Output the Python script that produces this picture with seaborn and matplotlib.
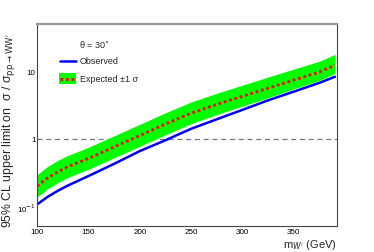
import numpy as np
import pandas as pd
import matplotlib
matplotlib.use("Agg")
import matplotlib.pyplot as plt
import matplotlib.ticker as mticker
import seaborn as sns

# ---- data ----
mass = [100, 110, 120, 130, 140, 150, 175, 200, 225, 250, 275, 300, 325, 350, 375, 390]
observed = [0.107, 0.138, 0.170, 0.204, 0.240, 0.282, 0.427, 0.66, 0.955, 1.41,
            1.95, 2.69, 3.72, 5.0, 6.76, 8.3]
expected = [0.20, 0.263, 0.324, 0.389, 0.447, 0.513, 0.76, 1.12, 1.66, 2.40,
            3.24, 4.27, 5.62, 7.41, 9.77, 12.3]
exp_hi = [0.295, 0.389, 0.479, 0.569, 0.653, 0.750, 1.11, 1.64, 2.43, 3.51,
          4.73, 6.24, 8.22, 10.8, 14.1, 17.8]
exp_lo = [0.138, 0.182, 0.224, 0.269, 0.309, 0.355, 0.525, 0.776, 1.15, 1.68,
          2.29, 3.05, 4.07, 5.50, 7.33, 9.33]
x_ticks = [100, 150, 200, 250, 300, 350]
y_ticks = [0.1, 1, 10]
y_tick_labels = ["10$^{-1}$", "1", "10"]

df = pd.DataFrame({"mass": mass, "observed": observed, "expected": expected,
                   "hi": exp_hi, "lo": exp_lo})

sns.set_style("white")
plt.rcParams["font.family"] = ["Liberation Sans", "DejaVu Sans"]
plt.rcParams["mathtext.fontset"] = "dejavusans"

fig = plt.figure(figsize=(3.74, 2.53), dpi=100)
ax = fig.add_axes([37/374, 1 - 226.7/253, 300/374, (226.7 - 25)/253])

ax.fill_between(df["mass"], df["lo"], df["hi"], color="#00ff00", lw=0, zorder=1)
sns.lineplot(data=df, x="mass", y="expected", ax=ax, color="red", lw=2,
             linestyle=(0, (1, 1)), zorder=3)
sns.lineplot(data=df, x="mass", y="observed", ax=ax, color="#0000ff", lw=1.8, zorder=2)
ax.axhline(1, color="#777777", lw=0.9, ls=(0, (4, 3)), zorder=0)

ax.set_yscale("log")
ax.set_xlim(100, 392)
ax.set_ylim(0.052, 50)

ax.set_xticks(x_ticks)
ax.set_xticklabels([str(t) for t in x_ticks])
ax.xaxis.set_minor_locator(mticker.MultipleLocator(10))
ax.set_yticks(y_ticks)
ax.set_yticklabels(y_tick_labels)
ax.yaxis.set_minor_locator(mticker.LogLocator(base=10, subs=np.arange(2, 10)))
ax.yaxis.set_minor_formatter(mticker.NullFormatter())

ax.tick_params(axis="both", which="major", direction="in", length=6, width=0.7,
               labelsize=5.8, colors="#333333", labelcolor="black",
               top=False, right=False)
ax.tick_params(axis="both", which="minor", direction="in", length=3, width=0.7,
               colors="#333333", top=False, right=False)
ax.tick_params(axis="x", pad=2)
ax.tick_params(axis="y", pad=1)

for side in ["left", "bottom", "right"]:
    ax.spines[side].set_color("#444444")
    ax.spines[side].set_linewidth(0.8)
ax.spines["top"].set_color("#999999")
ax.spines["top"].set_linewidth(1.6)

ax.set_xlabel("m$_{W'}$ (GeV)", fontsize=8, ha="right", x=1.0, labelpad=1)
ax.set_ylabel("95% CL upper limit on  σ / σ$_{\\mathrm{pp\\rightarrow WW'}}$",
              fontsize=8.8, labelpad=4)
ax.yaxis.set_label_coords(-0.065, 0.475)

# legend-like annotations
ax.text(79/374, 1 - 45/253, "θ = 30$^{\\circ}$", transform=fig.transFigure,
        fontsize=6.5, va="center", ha="left")
ax.plot([60/374, 76/374], [1 - 62/253, 1 - 62/253], transform=fig.transFigure,
        color="#0000ff", lw=1.8, clip_on=False)
ax.text(80/374, 1 - 62/253, "Observed", transform=fig.transFigure,
        fontsize=6.5, va="center", ha="left")
ax.add_patch(plt.Rectangle((59/374, 1 - 85/253), 17/374, 11/253,
                           transform=fig.transFigure, color="#00ff00",
                           lw=0, clip_on=False))
ax.plot([60/374, 76/374], [1 - 80/253, 1 - 80/253], transform=fig.transFigure,
        color="red", lw=2, ls=(0, (1, 1)), clip_on=False)
ax.text(80/374, 1 - 80/253, "Expected ±1 σ", transform=fig.transFigure,
        fontsize=6.5, va="center", ha="left")

fig.savefig("out.png", dpi=100)
